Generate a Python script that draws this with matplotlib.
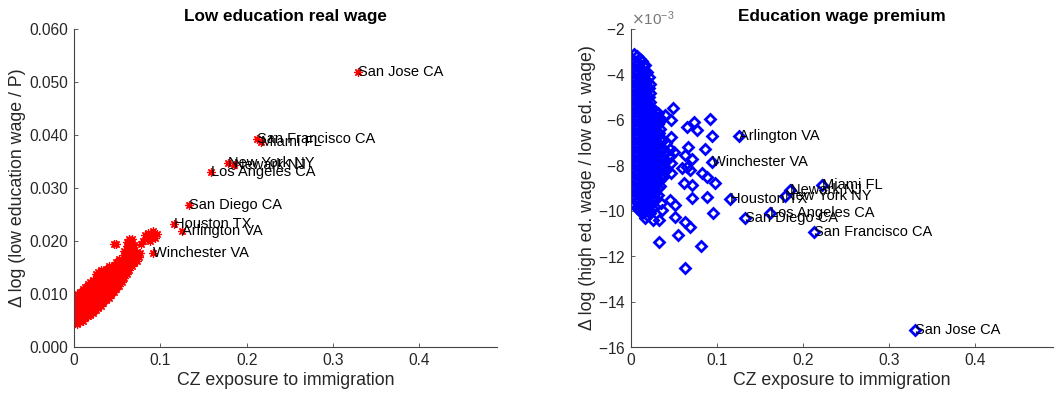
import matplotlib
matplotlib.use("Agg")
import matplotlib.pyplot as plt
from matplotlib.ticker import FixedLocator, FuncFormatter, ScalarFormatter

plt.rcParams['font.family'] = ['Liberation Sans', 'DejaVu Sans']
plt.rcParams['axes.unicode_minus'] = False

# ---- left panel: low education real wage (columns of CZ points) ----
low_cols_x = [0.001, 0.004, 0.007, 0.010, 0.013, 0.016, 0.019, 0.022, 0.025,
              0.028, 0.031, 0.034, 0.037, 0.040, 0.043, 0.046, 0.049, 0.052,
              0.055, 0.058, 0.061, 0.064, 0.067, 0.070, 0.073]
low_cols_y = [
    [0.0046, 0.0055, 0.0063, 0.0072, 0.0080, 0.0088, 0.0095],
    [0.0043, 0.0051, 0.0060, 0.0068, 0.0077, 0.0085, 0.0093, 0.0100],
    [0.0047, 0.0056, 0.0064, 0.0073, 0.0081, 0.0090, 0.0098, 0.0104],
    [0.0050, 0.0059, 0.0067, 0.0076, 0.0084, 0.0093, 0.0101, 0.0109],
    [0.0054, 0.0062, 0.0071, 0.0080, 0.0088, 0.0097, 0.0105, 0.0114],
    [0.0058, 0.0066, 0.0075, 0.0083, 0.0092, 0.0100, 0.0109, 0.0118],
    [0.0061, 0.0070, 0.0079, 0.0087, 0.0096, 0.0104, 0.0113, 0.0122],
    [0.0065, 0.0074, 0.0082, 0.0091, 0.0100, 0.0108, 0.0117, 0.0126],
    [0.0069, 0.0078, 0.0086, 0.0095, 0.0104, 0.0112, 0.0121, 0.0130, 0.0137],
    [0.0073, 0.0082, 0.0090, 0.0099, 0.0107, 0.0116, 0.0125, 0.0134, 0.0142],
    [0.0078, 0.0087, 0.0095, 0.0104, 0.0112, 0.0121, 0.0130, 0.0139, 0.0146],
    [0.0083, 0.0092, 0.0100, 0.0109, 0.0118, 0.0126, 0.0135, 0.0143],
    [0.0088, 0.0097, 0.0105, 0.0114, 0.0123, 0.0131, 0.0140, 0.0148],
    [0.0093, 0.0102, 0.0110, 0.0119, 0.0128, 0.0136, 0.0145, 0.0152],
    [0.0098, 0.0107, 0.0116, 0.0124, 0.0133, 0.0142, 0.0150],
    [0.0104, 0.0112, 0.0121, 0.0130, 0.0138, 0.0147, 0.0155, 0.0194],
    [0.0109, 0.0118, 0.0127, 0.0135, 0.0144, 0.0153, 0.0160, 0.0194],
    [0.0115, 0.0124, 0.0133, 0.0142, 0.0150, 0.0159, 0.0166],
    [0.0122, 0.0131, 0.0140, 0.0148, 0.0157, 0.0165],
    [0.0130, 0.0138, 0.0147, 0.0156, 0.0164, 0.0173, 0.0182],
    [0.0138, 0.0146, 0.0155, 0.0164, 0.0172, 0.0181, 0.0190, 0.0198],
    [0.0146, 0.0155, 0.0163, 0.0172, 0.0181, 0.0189, 0.0198, 0.0204],
    [0.0152, 0.0161, 0.0170, 0.0178, 0.0187, 0.0196, 0.0203],
    [0.0158, 0.0166, 0.0175, 0.0183, 0.0192],
    [0.0162, 0.0171, 0.0180],
]
low_extra_x = [0.075, 0.076, 0.078, 0.080, 0.082, 0.084, 0.086, 0.088, 0.090, 0.092, 0.094, 0.096]
low_extra_y = [0.0170, 0.0178, 0.0195, 0.0200, 0.0212, 0.0205, 0.0216, 0.0200, 0.0210, 0.0218, 0.0206, 0.0214]

low_cities = ['San Jose CA', 'San Francisco CA', 'Miami FL', 'New York NY', 'Newark NJ',
              'Los Angeles CA', 'San Diego CA', 'Houston TX', 'Arlington VA', 'Winchester VA']
low_city_x = [0.329, 0.212, 0.217, 0.178, 0.185, 0.159, 0.133, 0.1155, 0.125, 0.092]
low_city_y = [0.0518, 0.0392, 0.0387, 0.0347, 0.0343, 0.0331, 0.0268, 0.0232, 0.0218, 0.0178]

# ---- right panel: education wage premium (values in units of 1e-3) ----
prem_cols_x = [0.001, 0.004, 0.007, 0.010, 0.013, 0.016, 0.019, 0.022, 0.025,
               0.028, 0.031, 0.034, 0.037, 0.041, 0.045, 0.050]
prem_cols_y = [
    [-3.3, -3.7, -4.1, -4.5, -4.9, -5.3, -5.7, -6.1, -6.5, -6.9, -7.3, -7.7, -8.1, -8.5, -8.9, -9.3],
    [-3.1, -3.5, -3.9, -4.3, -4.7, -5.1, -5.5, -5.9, -6.3, -6.7, -7.1, -7.5, -7.9, -8.3, -8.7, -9.1, -9.5],
    [-3.2, -3.6, -4.0, -4.4, -4.8, -5.2, -5.6, -6.0, -6.4, -6.8, -7.2, -7.6, -8.0, -8.4, -8.8, -9.2, -9.6, -9.9],
    [-3.3, -3.7, -4.1, -4.5, -4.9, -5.3, -5.7, -6.1, -6.5, -6.9, -7.3, -7.7, -8.1, -8.5, -8.9, -9.3, -9.7, -10.0],
    [-3.4, -3.8, -4.2, -4.6, -5.0, -5.4, -5.8, -6.2, -6.6, -7.0, -7.4, -7.8, -8.2, -8.6, -9.0, -9.4, -9.8, -10.1],
    [-3.6, -4.0, -4.4, -4.8, -5.2, -5.6, -6.0, -6.4, -6.8, -7.2, -7.6, -8.0, -8.4, -8.8, -9.2, -9.6, -10.0, -10.3],
    [-3.9, -4.3, -4.7, -5.1, -5.5, -5.9, -6.3, -6.7, -7.1, -7.5, -7.9, -8.3, -8.7, -9.1, -9.5, -9.9, -10.2],
    [-4.4, -4.8, -5.2, -5.6, -6.0, -6.4, -6.8, -7.2, -7.6, -8.0, -8.4, -8.8, -9.2, -9.6, -10.0],
    [-5.5, -5.9, -6.3, -6.7, -7.1, -7.5, -7.9, -8.3, -8.7, -9.1, -9.5, -9.9],
    [-5.6, -6.0, -6.4, -6.8, -7.2, -7.6, -8.0, -8.4, -8.8, -9.2, -9.5],
    [-5.7, -6.2, -6.6, -7.0, -7.4, -7.8, -8.2, -8.6, -9.0, -9.3],
    [-5.9, -6.4, -6.9, -7.3, -7.7, -8.1, -8.5, -8.9],
    [-6.9, -7.3, -7.7, -8.1, -8.5],
    [-7.0, -7.4, -7.8, -8.2],
    [-7.3, -7.6],
    [-7.4],
]
# in-between CZs of the dense core
prem_core_x = [0.0025, 0.0085, 0.0145, 0.0205, 0.0265, 0.0325]
prem_core_y = [
    [-3.5, -3.9, -4.3, -4.7, -5.1, -5.5, -5.9, -6.3, -6.7, -7.1, -7.5, -7.9, -8.3, -8.7, -9.1],
    [-3.5, -3.9, -4.3, -4.7, -5.1, -5.5, -5.9, -6.3, -6.7, -7.1, -7.5, -7.9, -8.3, -8.7, -9.1, -9.5, -9.8],
    [-3.6, -4.0, -4.4, -4.8, -5.2, -5.6, -6.0, -6.4, -6.8, -7.2, -7.6, -8.0, -8.4, -8.8, -9.2, -9.6, -10.0],
    [-4.1, -4.6, -5.0, -5.4, -5.8, -6.2, -6.6, -7.0, -7.4, -7.8, -8.2, -8.6, -9.0, -9.4, -9.8],
    [-5.8, -6.2, -6.6, -7.0, -7.4, -7.8, -8.2, -8.6, -9.0, -9.4],
    [-6.1, -6.6, -7.1, -7.5, -7.9, -8.3, -8.7],
]
prem_extra_x = [0.049, 0.0395, 0.047, 0.0647, 0.073, 0.0764, 0.0919, 0.0946, 0.046, 0.0667,
                0.0628, 0.0706, 0.086, 0.059, 0.0647, 0.069, 0.047, 0.047, 0.082, 0.088,
                0.0977, 0.0616, 0.0706, 0.088, 0.0706, 0.0957, 0.0279, 0.035, 0.0453, 0.0512,
                0.036, 0.0512, 0.026, 0.032, 0.055, 0.0628, 0.0686, 0.033, 0.081, 0.0628, 0.022]
prem_extra_y = [-5.49, -5.79, -6.01, -6.30, -6.08, -6.45, -5.98, -6.71, -6.74, -7.18,
                -7.55, -7.74, -7.30, -8.13, -8.06, -8.20, -7.91, -8.35, -8.35, -8.50,
                -8.79, -8.76, -8.87, -9.38, -9.46, -10.11, -9.53, -9.68, -9.53, -9.75,
                -9.97, -10.26, -10.41, -10.41, -11.07, -10.48, -10.70, -11.36, -11.55, -12.51, -10.11]

prem_cities = ['Arlington VA', 'Winchester VA', 'Miami FL', 'Newark NJ', 'New York NY',
               'Houston TX', 'Los Angeles CA', 'San Diego CA', 'San Francisco CA', 'San Jose CA']
prem_city_x = [0.126, 0.0946, 0.2217, 0.185, 0.179, 0.115, 0.161, 0.1326, 0.212, 0.330]
prem_city_y = [-6.71, -7.87, -8.87, -9.10, -9.35, -9.50, -10.11, -10.33, -10.92, -15.25]


def flatten(cols_x, cols_y):
    xs, ys = [], []
    for cx, cy in zip(cols_x, cols_y):
        xs += [cx] * len(cy)
        ys += cy
    return xs, ys


low_x, low_y = flatten(low_cols_x, low_cols_y)
low_x += low_extra_x + low_city_x
low_y += low_extra_y + low_city_y

prem_x, prem_y = flatten(prem_cols_x, prem_cols_y)
core_x, core_y = flatten(prem_core_x, prem_core_y)
prem_x += core_x + prem_extra_x + prem_city_x
prem_y = [v * 1e-3 for v in prem_y + core_y + prem_extra_y + prem_city_y]

axis_col = '#444444'
text_col = '#262626'

fig = plt.figure(figsize=(10.59, 3.96), dpi=100)
ax1 = fig.add_axes([0.0699, 0.1237, 0.3995, 0.8031])
ax2 = fig.add_axes([0.5958, 0.1237, 0.3985, 0.8031])


def style(ax):
    for s in ['top', 'right']:
        ax.spines[s].set_visible(False)
    for s in ['left', 'bottom']:
        ax.spines[s].set_color(axis_col)
        ax.spines[s].set_linewidth(0.8)
    ax.tick_params(direction='in', length=3, width=0.6, colors=axis_col,
                   labelcolor=text_col, labelsize=11.2, pad=4)
    ax.set_xlim(0, 0.49)
    ax.xaxis.set_major_locator(FixedLocator([0, 0.1, 0.2, 0.3, 0.4]))
    ax.xaxis.set_major_formatter(FuncFormatter(lambda v, p: '0' if v == 0 else f'{v:g}'))
    ax.set_xlabel('CZ exposure to immigration', fontsize=12.8, color=text_col, labelpad=3)


# left panel
ax1.plot(low_x, low_y, linestyle='none', marker=(8, 2, 0), markersize=6,
         markeredgewidth=0.9, color='#ff0000')
for name, x, y in zip(low_cities, low_city_x, low_city_y):
    ax1.text(x, y, name, ha='left', va='center', fontsize=10.5, color='black')
style(ax1)
ax1.set_ylim(0, 0.06)
ax1.yaxis.set_major_locator(FixedLocator([0, 0.01, 0.02, 0.03, 0.04, 0.05, 0.06]))
ax1.yaxis.set_major_formatter(FuncFormatter(lambda v, p: f'{v:.3f}'))
ax1.set_ylabel('\u0394 log (low education wage / P)', fontsize=12.8, color=text_col, labelpad=3)
ax1.set_title('Low education real wage', fontsize=12.3, fontweight='bold', pad=6)

# right panel
ax2.plot(prem_x, prem_y, linestyle='none', marker='D', markersize=5.3,
         markerfacecolor='none', markeredgewidth=2, color='#0000ff')
for name, x, y in zip(prem_cities, prem_city_x, prem_city_y):
    ax2.text(x, y * 1e-3, name, ha='left', va='center', fontsize=10.5, color='black')
style(ax2)
ax2.set_ylim(-16e-3, -2e-3)
ax2.yaxis.set_major_locator(FixedLocator([-16e-3, -14e-3, -12e-3, -10e-3, -8e-3, -6e-3, -4e-3, -2e-3]))
fmt = ScalarFormatter(useMathText=True)
fmt.set_powerlimits((-3, -3))
ax2.yaxis.set_major_formatter(fmt)
ax2.yaxis.get_offset_text().set_fontsize(11)
ax2.yaxis.get_offset_text().set_color('#777777')
ax2.set_ylabel('\u0394 log (high ed. wage / low ed. wage)', fontsize=12.8, color=text_col, labelpad=1)
ax2.set_title('Education wage premium', fontsize=12.3, fontweight='bold', pad=6)

fig.savefig('out.png', dpi=100)
